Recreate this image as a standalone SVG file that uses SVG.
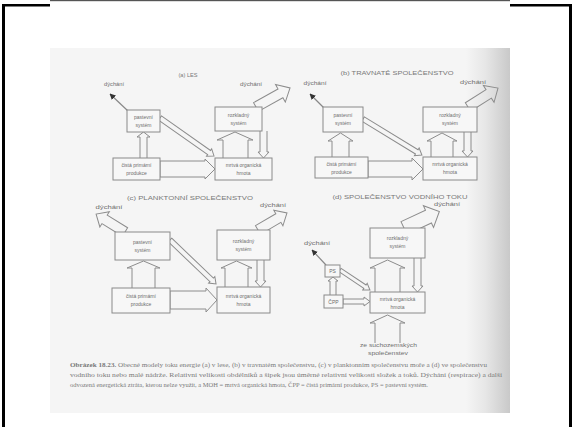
<svg xmlns="http://www.w3.org/2000/svg" width="572" height="427" viewBox="0 0 572 427">
<defs>
<linearGradient id="shade" x1="0" y1="0" x2="1" y2="0">
<stop offset="0" stop-color="#f5f5f5"/>
<stop offset="0.45" stop-color="#e6e6e6"/>
<stop offset="1" stop-color="#c9c9c9"/>
</linearGradient>
<marker id="dark" viewBox="0 0 10 10" refX="9" refY="5" markerWidth="6" markerHeight="6" markerUnits="userSpaceOnUse" orient="auto">
<path d="M0,0L10,5L0,10Z" fill="#333"/>
</marker>
</defs>
<style>
.box{fill:#f7f7f7;stroke:#8a8a8a;stroke-width:1}
.ar{fill:none;stroke:#8c8c8c;stroke-width:1;stroke-linejoin:miter}
.ln{fill:none;stroke:#888;stroke-width:1.2}
.t{font-family:"Liberation Sans",Arial,sans-serif;font-size:5px;fill:#6e6e6e;text-anchor:middle}
.ti{font-family:"Liberation Sans",Arial,sans-serif;font-size:6px;fill:#777;text-anchor:middle}
.cap{font-family:"Liberation Serif","Times New Roman",serif;font-size:6.3px;fill:#7a7a7a}
</style>
<rect width="572" height="427" fill="#ffffff"/>
<g id="frame">
<rect x="2" y="4" width="3" height="423" fill="#000"/>
<rect x="2" y="4" width="48" height="2.5" fill="#000"/>
<rect x="50" y="0" width="460" height="1.2" fill="#555"/>
<rect x="510" y="4" width="62" height="2.5" fill="#000"/>
<rect x="569" y="4" width="3" height="423" fill="#000"/>
</g>
<g id="photo">
<rect x="50" y="48" width="460" height="365" fill="#f5f5f5"/>
<rect x="466" y="48" width="44" height="365" fill="url(#shade)"/>
</g>
<g id="titles">
<text class="ti" x="188" y="77" textLength="19" lengthAdjust="spacingAndGlyphs">(a) LES</text>
<text class="ti" x="397" y="75" textLength="113" lengthAdjust="spacingAndGlyphs">(b) TRAVNATÉ SPOLEČENSTVO</text>
<text class="ti" x="190" y="200" textLength="126" lengthAdjust="spacingAndGlyphs">(c) PLANKTONNÍ SPOLEČENSTVO</text>
<text class="ti" x="400" y="199" textLength="135" lengthAdjust="spacingAndGlyphs">(d) SPOLEČENSTVO VODNÍHO TOKU</text>
</g>
<g id="connectors">
<!-- (a) -->
<line class="ln" x1="128" y1="111" x2="110" y2="94" marker-end="url(#dark)"/>
<path class="ar" d="M140,158V137H137L143.5,132L150,137H147V158"/>
<path class="ar" transform="translate(160 118) rotate(35.1)" d="M0,-2.5H60V-4.5L66,0L60,4.5V2.5H0Z"/>
<path class="ar" transform="translate(160 169)" d="M0,-8H45V-10L55,0L45,10V8H0Z"/>
<path class="ar" d="M223,158V140H217L235,132L253,140H248V158"/>
<path class="ar" d="M260,131V152H258L263.5,158L269,152H267V131"/>
<path class="ar" transform="translate(256 107) rotate(-29.2)" d="M0,-5H28V-10L39,0L28,10V5H0Z"/>
<!-- (b) -->
<line class="ln" x1="324" y1="108" x2="310" y2="94" marker-end="url(#dark)"/>
<path class="ar" d="M332,157V141H328L340.5,133L353,141H349V157"/>
<path class="ar" transform="translate(363 119) rotate(31.4)" d="M0,-2.5H63V-4.5L69,0L63,4.5V2.5H0Z"/>
<path class="ar" transform="translate(368 169)" d="M0,-8H44V-11L55,0L44,11V8H0Z"/>
<path class="ar" d="M431,157V141H427L442,133L457,141H453V157"/>
<path class="ar" d="M464,132V151H462L467.5,157L473,151H471V132"/>
<path class="ar" transform="translate(468 107) rotate(-32.3)" d="M0,-5H24.5V-10L35.5,0L24.5,10V5H0Z"/>
<!-- (c) -->
<path class="ar" transform="translate(125 232) rotate(-148.2)" d="M0,-5H24V-9L34,0L24,9V5H0Z"/>
<path class="ar" d="M132,288V268H127L143.5,261L160,268H155V288"/>
<path class="ar" transform="translate(170 240) rotate(43.7)" d="M0,-2.5H57.7V-4.5L63.7,0L57.7,4.5V2.5H0Z"/>
<path class="ar" transform="translate(170 300)" d="M0,-9H36V-12L47,0L36,12V9H0Z"/>
<path class="ar" d="M225,287V268H221L236.5,261L252,268H248V287"/>
<path class="ar" d="M257,260V281H255L260.5,287L266,281H264V260"/>
<path class="ar" transform="translate(258 230) rotate(-30.4)" d="M0,-5H23.6V-9L33.6,0L23.6,9V5H0Z"/>
<!-- (d) -->
<line class="ln" x1="326" y1="265" x2="312" y2="250" marker-end="url(#dark)"/>
<path class="ar" d="M330,295V281H328L333,277L338,281H336V295"/>
<path class="ar" transform="translate(340 270) rotate(33.7)" d="M0,-2H30V-4L36,0L30,4V2H0Z"/>
<path class="ar" transform="translate(343 301.5)" d="M0,-2.5H21V-4.5L27,0L21,4.5V2.5H0Z"/>
<path class="ar" d="M375,292V268H370L387.5,260L405,268H400V292"/>
<path class="ar" d="M414,258V286H412L417.5,292L423,286H421V258"/>
<path class="ar" d="M375,343V323H370L387.5,315L405,323H400V343"/>
<path class="ar" transform="translate(404 228) rotate(-25)" d="M0,-7H27V-12L39,0L27,12V7H0Z"/>
</g>
<g id="a-dychani1"><text class="t" x="114" y="86" textLength="20" lengthAdjust="spacingAndGlyphs">dýchání</text></g>
<g id="a-dychani2"><text class="t" x="251" y="86" textLength="22" lengthAdjust="spacingAndGlyphs">dýchání</text></g>
<g id="a-pastevni"><rect class="box" x="127" y="110" width="33" height="22"/><text class="t" x="143.5" y="119">pastevní</text><text class="t" x="143.5" y="127">systém</text></g>
<g id="a-cpp"><rect class="box" x="113" y="158" width="47" height="22"/><text class="t" x="136.5" y="167">čistá primární</text><text class="t" x="136.5" y="175">produkce</text></g>
<g id="a-moh"><rect class="box" x="215" y="158" width="57" height="22"/><text class="t" x="243.5" y="167">mrtvá organická</text><text class="t" x="243.5" y="175">hmota</text></g>
<g id="a-rozkladny"><rect class="box" x="215" y="107" width="47" height="24"/><text class="t" x="238.5" y="117">rozkladný</text><text class="t" x="238.5" y="125">systém</text></g>
<g id="b-dychani1"><text class="t" x="315" y="85" textLength="23" lengthAdjust="spacingAndGlyphs">dýchání</text></g>
<g id="b-dychani2"><text class="t" x="473" y="84" textLength="26" lengthAdjust="spacingAndGlyphs">dýchání</text></g>
<g id="b-pastevni"><rect class="box" x="323" y="107" width="40" height="25"/><text class="t" x="343" y="117">pastevní</text><text class="t" x="343" y="125">systém</text></g>
<g id="b-cpp"><rect class="box" x="315" y="157" width="53" height="21"/><text class="t" x="341.5" y="165.5">čistá primární</text><text class="t" x="341.5" y="173.5">produkce</text></g>
<g id="b-moh"><rect class="box" x="423" y="157" width="54" height="23"/><text class="t" x="450" y="166">mrtvá organická</text><text class="t" x="450" y="174">hmota</text></g>
<g id="b-rozkladny"><rect class="box" x="423" y="107" width="54" height="25"/><text class="t" x="450" y="117">rozkladný</text><text class="t" x="450" y="125">systém</text></g>
<g id="c-dychani1"><text class="t" x="109" y="209" textLength="27" lengthAdjust="spacingAndGlyphs">dýchání</text></g>
<g id="c-dychani2"><text class="t" x="273" y="207" textLength="26" lengthAdjust="spacingAndGlyphs">dýchání</text></g>
<g id="c-pastevni"><rect class="box" x="115" y="232" width="55" height="28"/><text class="t" x="142.5" y="244">pastevní</text><text class="t" x="142.5" y="252">systém</text></g>
<g id="c-cpp"><rect class="box" x="112" y="288" width="58" height="25"/><text class="t" x="141" y="298">čistá primární</text><text class="t" x="141" y="306">produkce</text></g>
<g id="c-moh"><rect class="box" x="217" y="287" width="53" height="26"/><text class="t" x="243.5" y="298">mrtvá organická</text><text class="t" x="243.5" y="306">hmota</text></g>
<g id="c-rozkladny"><rect class="box" x="217" y="230" width="53" height="30"/><text class="t" x="243.5" y="243">rozkladný</text><text class="t" x="243.5" y="251">systém</text></g>
<g id="d-dychani1"><text class="t" x="317" y="245" textLength="26" lengthAdjust="spacingAndGlyphs">dýchání</text></g>
<g id="d-dychani2"><text class="t" x="447" y="206" textLength="26" lengthAdjust="spacingAndGlyphs">dýchání</text></g>
<g id="d-rozkladny"><rect class="box" x="370" y="228" width="55" height="30"/><text class="t" x="397.5" y="240">rozkladný</text><text class="t" x="397.5" y="248">systém</text></g>
<g id="d-moh"><rect class="box" x="370" y="292" width="55" height="21"/><text class="t" x="397.5" y="300.5">mrtvá organická</text><text class="t" x="397.5" y="308.5">hmota</text></g>
<g id="d-ps"><rect class="box" x="325" y="265" width="15" height="12"/><text class="t" x="332.5" y="273">PS</text></g>
<g id="d-cpp"><rect class="box" x="324" y="295" width="19" height="13"/><text class="t" x="333.5" y="304">ČPP</text></g>
<g id="d-source"><text class="t" x="388.5" y="347" textLength="57" lengthAdjust="spacingAndGlyphs">ze suchozemských</text><text class="t" x="388" y="355" textLength="40" lengthAdjust="spacingAndGlyphs">společenstev</text></g>
<g id="caption">
<text class="cap" x="70" y="367" textLength="417" lengthAdjust="spacingAndGlyphs"><tspan font-weight="bold">Obrázek 18.23.</tspan> Obecné modely toku energie (a) v lese, (b) v travnatém společenstvu, (c) v planktonním společenstvu moře a (d) ve společenstvu</text>
<text class="cap" x="70" y="377" textLength="432" lengthAdjust="spacingAndGlyphs">vodního toku nebo malé nádrže. Relativní velikosti obdélníků a šipek jsou úměrné relativní velikosti složek a toků. Dýchání (respirace) a další</text>
<text class="cap" x="70" y="387" textLength="358" lengthAdjust="spacingAndGlyphs">odvozená energetická ztráta, kterou nelze využít, a MOH = mrtvá organická hmota, ČPP = čistá primární produkce, PS = pastevní systém.</text>
</g>
</svg>
